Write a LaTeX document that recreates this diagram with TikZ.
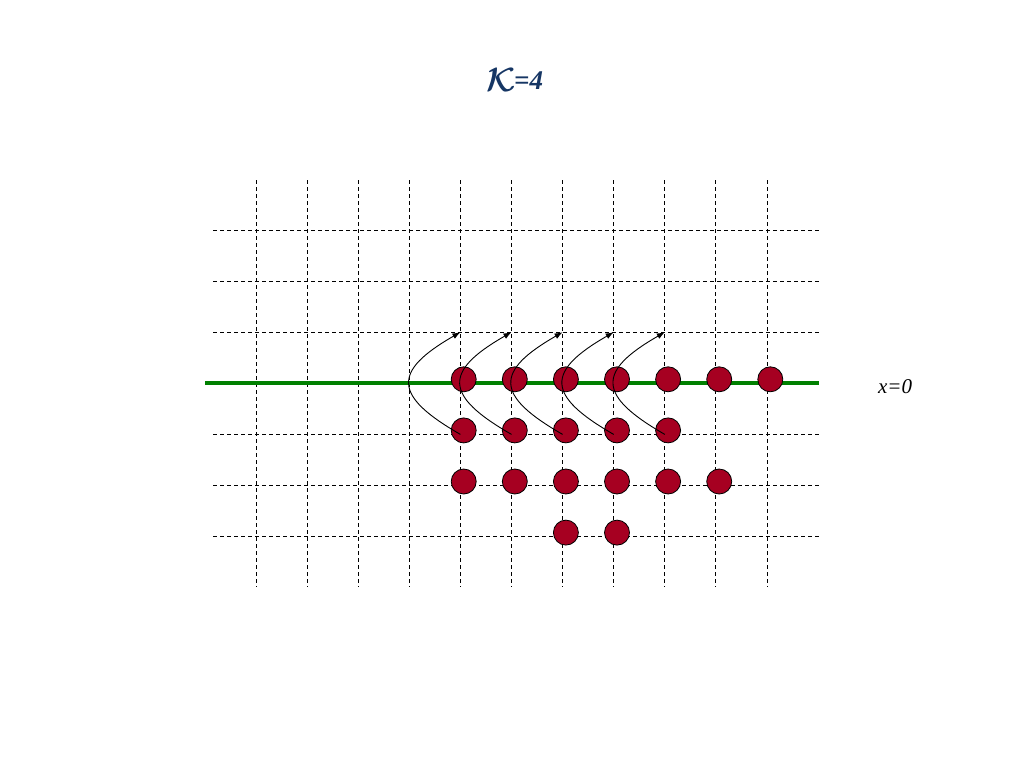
\documentclass[tikz,border=0pt]{standalone}
\usepackage{fontspec}
\setmainfont{Liberation Serif}
\usetikzlibrary{arrows.meta}
\definecolor{titleblue}{RGB}{22,54,100}
\definecolor{dotred}{RGB}{166,0,33}
\definecolor{linegreen}{RGB}{0,128,0}
\tikzset{
  gridline/.style={black, line width=1pt, dash pattern=on 4pt off 3pt},
  dot/.style={circle, fill=dotred, draw=black, line width=0.8pt, minimum size=25pt, inner sep=0pt},
  hop/.style={-{Latex[length=8pt,width=6pt]}, line width=0.9pt, black},
  zeroline/.style={linegreen, line width=4pt},
}
\begin{document}
\begin{tikzpicture}[x=1pt,y=-1pt]
\useasboundingbox (0,0) rectangle (1024,768);
% grid
\foreach \i in {0,...,10}
  \draw[gridline] ({256+51.1*\i},180) -- ({256+51.1*\i},587);
\foreach \j in {-3,-2,-1,1,2,3}
  \draw[gridline] (213,{383.3+51.1*\j}) -- (819,{383.3+51.1*\j});
% green line x=0
\coordinate (gl) at (205,383.3);
\coordinate (gr) at (819,383.3);
\draw[zeroline] (gl) -- (gr);
% grid intersections used by the hops
\foreach \i in {4,...,8} {
  \coordinate (t\i) at ({256+51.1*\i},{383.3-51.1});
  \coordinate (b\i) at ({256+51.1*\i},{383.3+51.1});
}
% dots
\foreach \i in {4,...,10}
  \node[dot] (d0\i) at ({256+51.1*\i+3.3},{383.3-4}) {};
\foreach \i in {4,...,8}
  \node[dot] (d1\i) at ({256+51.1*\i+3.3},{383.3+51.1-4}) {};
\foreach \i in {4,...,9}
  \node[dot] (d2\i) at ({256+51.1*\i+3.3},{383.3+102.2-4}) {};
\foreach \i in {6,7}
  \node[dot] (d3\i) at ({256+51.1*\i+3.3},{383.3+153.3-4}) {};
% hops
\foreach \i in {4,...,8}
  \draw[hop] (b\i) .. controls +(-68,-39) and +(-68,39) .. (t\i);
% texts
\node[text=titleblue, font=\fontsize{27}{31}\selectfont\bfseries\itshape, inner sep=0pt] (title) at (515,80) {\raisebox{-2pt}{\scalebox{1.35}{\boldmath$\mathcal{K}$}}\kern-2pt=4};
\node[font=\fontsize{21}{24}\selectfont\itshape, inner sep=0pt] (xlabel) at (895,387) {x=0};
\end{tikzpicture}
\end{document}
